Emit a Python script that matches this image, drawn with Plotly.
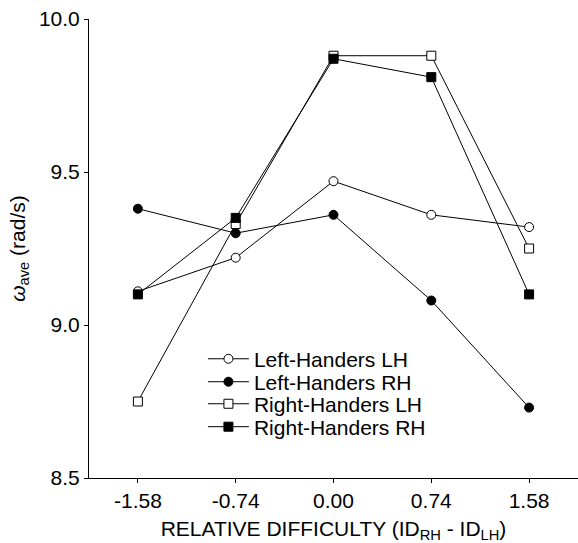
import plotly.graph_objects as go

categories = ["-1.58", "-0.74", "0.00", "0.74", "1.58"]
left_lh = [9.11, 9.22, 9.47, 9.36, 9.32]
left_rh = [9.38, 9.30, 9.36, 9.08, 8.73]
right_lh = [8.75, 9.33, 9.88, 9.88, 9.25]
right_rh = [9.10, 9.35, 9.87, 9.81, 9.10]

series_names = ["Left-Handers LH", "Left-Handers RH", "Right-Handers LH", "Right-Handers RH"]
series_values = [left_lh, left_rh, right_lh, right_rh]
series_symbols = ["circle", "circle", "square", "square"]
series_filled = [False, True, False, True]

font = "Liberation Sans, Arial, sans-serif"
legend_ids = ["legend", "legend2", "legend3", "legend4"]
legend_rows_y = [0.259, 0.209, 0.161, 0.111]

fig = go.Figure()
xidx = list(range(len(categories)))
for i, (name, vals, sym, filled) in enumerate(zip(series_names, series_values, series_symbols, series_filled)):
    fig.add_trace(go.Scatter(
        x=xidx, y=vals, name=name, mode="lines+markers",
        legend=legend_ids[i],
        line=dict(color="black", width=1),
        marker=dict(symbol=sym, size=9,
                    color="black" if filled else "white",
                    line=dict(color="black", width=1)),
    ))

legend_layout = {}
for lid, ly in zip(legend_ids, legend_rows_y):
    legend_layout[lid] = dict(x=0.233, y=ly, xanchor="left", yanchor="middle",
                              bgcolor="rgba(0,0,0,0)", font=dict(size=21, family=font),
                              itemwidth=41)

fig.update_layout(
    width=578, height=543,
    margin=dict(l=89, r=0, t=19, b=65),
    plot_bgcolor="white", paper_bgcolor="white",
    font=dict(family=font, size=21, color="black"),
    showlegend=True,
    xaxis=dict(
        range=[-0.5, 4.5], tickmode="array", tickvals=xidx, ticktext=categories,
        showline=True, linecolor="black", linewidth=1, mirror=False,
        ticks="outside", ticklen=4, tickcolor="black", showgrid=False, zeroline=False,
        tickfont=dict(size=21),
        title=dict(text="RELATIVE DIFFICULTY (ID<sub>RH</sub> - ID<sub>LH</sub>)",
                   font=dict(size=21), standoff=10),
    ),
    yaxis=dict(
        range=[8.5, 10.0], tickmode="array", tickvals=[8.5, 9.0, 9.5, 10.0],
        ticktext=["8.5", "9.0", "9.5", "10.0"],
        showline=True, linecolor="black", linewidth=1,
        ticks="outside", ticklen=4, tickcolor="black", showgrid=False, zeroline=False,
        tickfont=dict(size=21),
        title=dict(text="<i>ω</i><sub>ave</sub> (rad/s)", font=dict(size=21), standoff=7),
    ),
    **legend_layout,
)

fig.write_html("out.html")
